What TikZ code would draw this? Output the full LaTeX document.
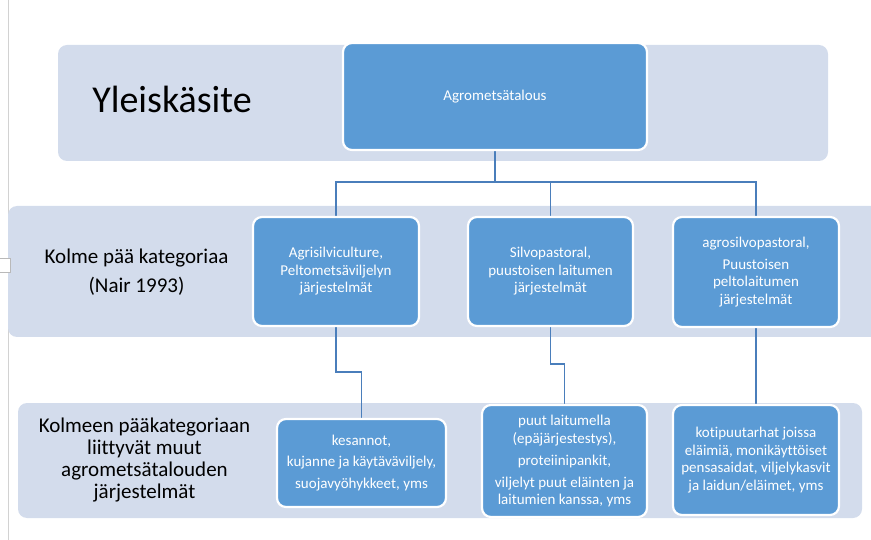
\documentclass[tikz,border=0pt]{standalone}
\usepackage{fontspec}
\setmainfont{Carlito}[Ligatures={NoCommon}]
\definecolor{bandc}{HTML}{D3DCEC}
\definecolor{boxc}{HTML}{5B9BD5}
\definecolor{linec}{HTML}{4A7EBB}
\pgfdeclarelayer{bg}
\pgfsetlayers{bg,main}
\begin{document}
\begin{tikzpicture}[x=1pt,y=-1pt,
  band/.style={fill=bandc, rounded corners=9pt},
  catbox/.style={rectangle, rounded corners=9pt, fill=boxc, draw=white, line width=2.2pt,
    text=white, align=center, font=\fontsize{15}{17.5}\selectfont, inner sep=0pt, outer sep=0pt},
  conn/.style={draw=linec, line width=1.5pt},
  lab/.style={text=black, align=center, inner sep=0pt}]
\useasboundingbox (0,0) rectangle (871,540);

% boxes
\node[catbox, minimum width=304pt, minimum height=107pt] (top) at (495,96.5) {Agrometsätalous};
\node[catbox, minimum width=166pt, minimum height=109pt] (a1) at (336,271.5)
  {Agrisilviculture,\\Peltometsäviljelyn\\järjestelmät};
\node[catbox, minimum width=165pt, minimum height=109pt] (a2) at (550.5,271.5)
  {Silvopastoral,\\puustoisen laitumen\\järjestelmät};
\node[catbox, minimum width=166pt, minimum height=110pt] (a3) at (756,272)
  {agrosilvopastoral,\\[4.5pt]Puustoisen\\peltolaitumen\\järjestelmät};
\node[catbox, minimum width=169pt, minimum height=88pt] (b1) at (361.5,463)
  {kesannot,\\[4pt]kujanne ja käytäväviljely,\\[4pt]suojavyöhykkeet, yms};
\node[catbox, minimum width=165pt, minimum height=112pt] (b2) at (564.5,461)
  {puut laitumella\\(epäjärjestestys),\\[4.5pt]proteiinipankit,\\[4.5pt]viljelyt puut eläinten ja\\laitumien kanssa, yms};
\node[catbox, minimum width=166pt, minimum height=110pt] (b3) at (756,460)
  {kotipuutarhat joissa\\eläimiä, monikäyttöiset\\pensasaidat, viljelykasvit\\ja laidun/eläimet, yms};

% labels
\node[lab, font=\fontsize{38}{40}\selectfont, anchor=base] (l1) at (172,113) {Yleiskäsite};
\node[lab, font=\fontsize{21}{29}\selectfont] (l2) at (136.5,272) {Kolme pää kategoriaa\\(Nair 1993)};
\node[lab, font=\fontsize{21}{21.7}\selectfont] (l3) at (144.5,460)
  {Kolmeen pääkategoriaan\\liittyvät muut\\agrometsätalouden\\järjestelmät};

\coordinate (j1) at (0,182);
\coordinate (k1) at (0,372);
\coordinate (k2) at (0,364);

\begin{pgfonlayer}{bg}
  \draw[gray!35, line width=0.8pt] (8,0) -- (8,540);
  \path[band] (58,45) rectangle (828,161);
  \path[band] (8,206) rectangle (890,337);
  \path[band] (18,403) rectangle (862,518);
  \draw[gray!55, fill=white, line width=0.8pt] (-2,258) -- (10,258) -- (10,272) -- (-2,272);
  \draw[conn] (top.south) -- (top.south |- j1);
  \draw[conn] (a1.north) |- (top.south |- j1) -| (a3.north);
  \draw[conn] (a2.north) -- (a2.north |- j1);
  \draw[conn] (a1.south) -- (a1.south |- k1) -| (b1.north);
  \draw[conn] (a2.south) -- (a2.south |- k2) -| (b2.north);
  \draw[conn] (a3.south) -- (b3.north);
\end{pgfonlayer}
\end{tikzpicture}
\end{document}
